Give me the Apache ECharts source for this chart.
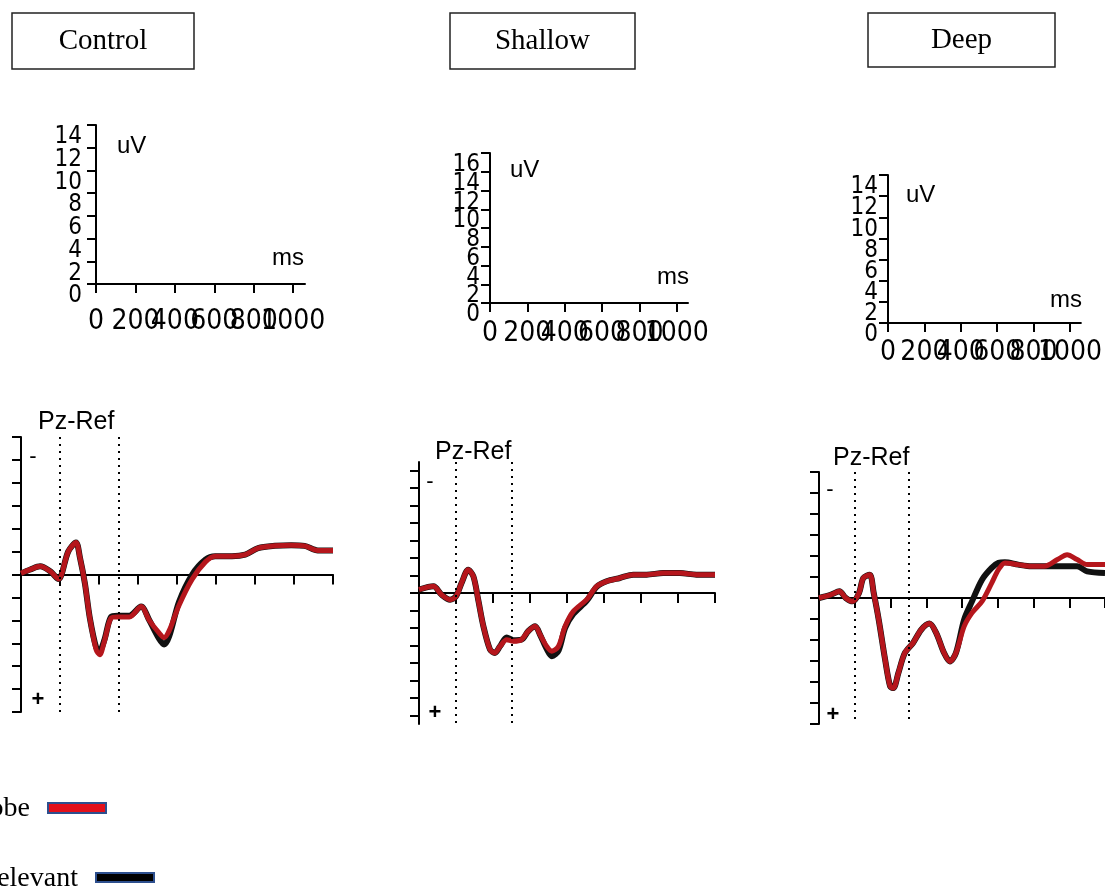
<!DOCTYPE html>
<html>
<head>
<meta charset="utf-8">
<script src="https://cdn.jsdelivr.net/npm/echarts@6/dist/echarts.min.js"></script>
<style>
  html, body { margin: 0; padding: 0; background: #fff; }
  #chart { width: 1105px; height: 890px; }
</style>
</head>
<body>
<div id="chart"></div>
<script>
// ERP waveforms at Pz for the three conditions (negative up)
const conditions = ["Control", "Shallow", "Deep"];
const legendNames = ["Probe", "Irrelevant"];

// scale boxes (uV / ms) above each waveform
const scaleTicksX = [0, 200, 400, 600, 800, 1000];
const scaleTicksY14 = [0, 2, 4, 6, 8, 10, 12, 14];
const scaleTicksY16 = [0, 2, 4, 6, 8, 10, 12, 14, 16];

// dotted markers (ms)
const markerTimes = [0, 150];

// Control
const controlTime = [-100, -76, -51, -25, -4, 21, 41, 51, 64, 76, 93, 102, 114, 131, 148, 178, 208, 229, 254, 267, 280, 305, 339, 373, 398, 441, 475, 508, 551, 593, 627, 661, 700];
const controlProbe = [-0.05, -0.22, -0.36, -0.14, 0.2, -1.0, -1.4, -0.75, 0.4, 1.85, 3.3, 3.5, 2.9, 1.9, 1.85, 1.85, 1.4, 2.0, 2.55, 2.75, 2.45, 1.35, 0.2, -0.55, -0.8, -0.8, -0.87, -1.15, -1.25, -1.28, -1.25, -1.05, -1.05];
const controlIrrelevant = [-0.05, -0.22, -0.36, -0.14, 0.2, -1.0, -1.4, -0.75, 0.4, 1.85, 3.2, 3.3, 2.85, 1.85, 1.8, 1.8, 1.4, 2.0, 2.8, 3.05, 2.7, 1.2, 0.0, -0.65, -0.8, -0.8, -0.87, -1.15, -1.25, -1.28, -1.25, -1.05, -1.05];

// Shallow
const shallowTime = [-100, -61, -39, -16, 0, 15, 33, 47, 60, 74, 92, 105, 119, 137, 155, 177, 195, 214, 227, 245, 259, 277, 295, 317, 353, 380, 407, 443, 479, 515, 560, 605, 650, 700];
const shallowProbe = [-0.19, -0.38, 0.1, 0.38, 0.19, -0.57, -1.33, -0.95, 0.38, 1.9, 3.24, 3.43, 3.05, 2.67, 2.76, 2.67, 2.19, 1.9, 2.38, 3.05, 3.33, 3.05, 1.9, 1.05, 0.38, -0.38, -0.67, -0.86, -1.05, -1.05, -1.14, -1.14, -1.05, -1.05];
const shallowIrrelevant = [-0.19, -0.38, 0.1, 0.38, 0.19, -0.57, -1.33, -0.95, 0.38, 1.9, 3.24, 3.43, 3.05, 2.55, 2.7, 2.67, 2.19, 1.9, 2.38, 3.2, 3.62, 3.3, 2.0, 1.2, 0.45, -0.35, -0.67, -0.86, -1.05, -1.05, -1.14, -1.14, -1.05, -1.05];

// Deep
const deepTime = [-100, -66, -43, -25, -6, 12, 24, 42, 53, 67, 85, 99, 108, 122, 140, 163, 186, 209, 228, 250, 266, 283, 306, 328, 356, 383, 402, 420, 457, 494, 530, 567, 594, 622, 650, 700];
const deepProbe = [0, -0.16, -0.32, 0, 0.16, -0.24, -0.95, -1.11, -0.24, 1.03, 2.94, 4.21, 4.29, 3.57, 2.62, 2.14, 1.51, 1.22, 1.67, 2.62, 3.02, 2.62, 1.35, 0.71, 0.16, -0.71, -1.35, -1.67, -1.59, -1.51, -1.51, -1.83, -2.06, -1.83, -1.59, -1.59];
const deepIrrelevant = [0, -0.16, -0.32, 0, 0.16, -0.24, -0.95, -1.11, -0.24, 1.03, 2.94, 4.21, 4.29, 3.57, 2.62, 2.14, 1.51, 1.22, 1.67, 2.62, 3.02, 2.62, 1.03, 0.16, -0.87, -1.43, -1.67, -1.7, -1.59, -1.51, -1.51, -1.51, -1.51, -1.51, -1.27, -1.19];

const waves = [
  { time: controlTime, probe: controlProbe, irr: controlIrrelevant },
  { time: shallowTime, probe: shallowProbe, irr: shallowIrrelevant },
  { time: deepTime, probe: deepProbe, irr: deepIrrelevant }
];

// layout (pixels)
const scaleLayout = [
  { left: 96, top: 125, width: 209, height: 159, ticks: scaleTicksY14, xMargin: 24, yMargin: 14 },
  { left: 490, top: 153, width: 198, height: 150, ticks: scaleTicksY16, xMargin: 17, yMargin: 10 },
  { left: 888, top: 175, width: 193, height: 148, ticks: scaleTicksY14, xMargin: 16, yMargin: 10 }
];
const waveLayout = [
  { left: 21, top: 437, width: 312, height: 275, lim: 6 },
  { left: 419, top: 462, width: 296, height: 262, lim: 7.5 },
  { left: 819, top: 472, width: 290, height: 252, lim: 6 }
];

const narrow = '"Liberation Sans Narrow", "DejaVu Sans Condensed", "Liberation Sans", sans-serif';
const sans = '"Liberation Sans", Arial, sans-serif';
const serif = '"Liberation Serif", "Times New Roman", serif';

const plain = function (v) { return String(v); };
// the packed labels are split over two stacked axes so none of them gets dropped
const every2 = function (arr, parity) { return arr.filter(function (v, j) { return j % 2 === parity; }); };

const grid = [], xAxis = [], yAxis = [], series = [];

scaleLayout.forEach(function (s, i) {
  grid.push({ left: s.left, top: s.top, width: s.width, height: s.height });
  const xi = xAxis.length, yi = yAxis.length;
  [0, 1].forEach(function (p) {
    const xt = every2(scaleTicksX, p), yt = every2(s.ticks, p);
    xAxis.push({
      type: "value", gridIndex: i, min: 0, max: 1060, position: "bottom", offset: 0,
      axisLine: { show: p === 0, onZero: false, lineStyle: { color: "#000", width: 2 } },
      axisTick: { show: true, customValues: xt, length: 9, lineStyle: { color: "#000", width: 2 } },
      axisLabel: {
        customValues: xt, formatter: plain, showMinLabel: true, showMaxLabel: true,
        fontFamily: narrow, fontSize: 28, color: "#000", margin: s.xMargin
      },
      splitLine: { show: false }
    });
    yAxis.push({
      type: "value", gridIndex: i, min: 0, max: s.ticks[s.ticks.length - 1], position: "left", offset: 0,
      axisLine: { show: p === 0, onZero: false, lineStyle: { color: "#000", width: 2 } },
      axisTick: { show: true, customValues: yt, length: 9, lineStyle: { color: "#000", width: 2 } },
      axisLabel: {
        customValues: yt, formatter: plain, showMinLabel: true, showMaxLabel: true,
        fontFamily: narrow, fontSize: 24, color: "#000", margin: s.yMargin, verticalAlign: "top"
      },
      splitLine: { show: false }
    });
  });
  series.push({ type: "line", xAxisIndex: xi, yAxisIndex: yi, data: [] });
});

waveLayout.forEach(function (w, k) {
  const gi = k + 3;
  const xi = xAxis.length, yi = yAxis.length;
  const d = waves[k];
  const yTicks = [];
  for (let v = -Math.floor(w.lim); v <= Math.floor(w.lim); v++) yTicks.push(v);
  grid.push({ left: w.left, top: w.top, width: w.width, height: w.height });
  xAxis.push({
    type: "value", gridIndex: gi, min: -100, max: 700, interval: 100,
    axisLine: { onZero: true, lineStyle: { color: "#000", width: 2 } },
    axisTick: { length: 10, lineStyle: { color: "#000", width: 2 } },
    axisLabel: { show: false },
    splitLine: { show: false }
  });
  yAxis.push({
    type: "value", gridIndex: gi, inverse: true, min: -w.lim, max: w.lim,
    axisLine: { show: true, onZero: false, lineStyle: { color: "#000", width: 2 } },
    axisTick: { show: true, customValues: yTicks, length: 9, lineStyle: { color: "#000", width: 2 } },
    axisLabel: { show: false },
    splitLine: { show: false }
  });
  series.push({
    name: "Irrelevant", type: "line", xAxisIndex: xi, yAxisIndex: yi,
    data: d.time.map(function (t, j) { return [t, d.irr[j]]; }),
    smooth: 0.3, showSymbol: false, z: 3,
    lineStyle: { color: "#111", width: 6 },
    markLine: {
      silent: true, symbol: ["none", "none"], label: { show: false },
      lineStyle: { color: "#000", type: [2, 5], width: 2 },
      data: markerTimes.map(function (t) { return { xAxis: t }; })
    }
  });
  series.push({
    name: "Probe", type: "line", xAxisIndex: xi, yAxisIndex: yi,
    data: d.time.map(function (t, j) { return [t, d.probe[j]]; }),
    smooth: 0.3, showSymbol: false, z: 4,
    lineStyle: { color: "#b5161c", width: 5 }
  });
});

// title boxes and annotations
const titleBoxes = [[12, 13, 182, 56], [450, 13, 185, 56], [868, 13, 187, 54]];
const unitPos = [[[117, 146], [272, 258]], [[510, 170], [657, 277]], [[906, 195], [1050, 300]]];
const pzPos = [[38, 422], [435, 452], [833, 458]];
const minusPos = [[33, 457], [430, 482], [830, 490]];
const plusPos = [[38, 700], [435, 713], [833, 715]];

const graphic = [];
conditions.forEach(function (c, k) {
  const b = titleBoxes[k];
  graphic.push({ type: "rect", shape: { x: b[0], y: b[1], width: b[2], height: b[3] }, style: { fill: "#fff", stroke: "#222", lineWidth: 1.5 } });
  graphic.push({ type: "text", x: b[0] + b[2] / 2, y: b[1] + b[3] / 2, style: { text: c, font: "29px " + serif, fill: "#000", align: "center", verticalAlign: "middle" } });
  graphic.push({ type: "text", x: unitPos[k][0][0], y: unitPos[k][0][1], style: { text: "uV", font: "24px " + sans, fill: "#000", verticalAlign: "middle" } });
  graphic.push({ type: "text", x: unitPos[k][1][0], y: unitPos[k][1][1], style: { text: "ms", font: "24px " + sans, fill: "#000", verticalAlign: "middle" } });
  graphic.push({ type: "text", x: pzPos[k][0], y: pzPos[k][1], style: { text: "Pz-Ref", font: "25px " + sans, fill: "#000", verticalAlign: "middle" } });
  graphic.push({ type: "text", x: minusPos[k][0], y: minusPos[k][1], style: { text: "-", font: "22px " + sans, fill: "#000", align: "center", verticalAlign: "middle" } });
  graphic.push({ type: "text", x: plusPos[k][0], y: plusPos[k][1], style: { text: "+", font: "bold 22px " + sans, fill: "#000", align: "center", verticalAlign: "middle" } });
});

// legend (cut at the left edge like the original)
graphic.push({ type: "text", x: 30, y: 809, style: { text: legendNames[0], font: "28px " + serif, fill: "#000", align: "right", verticalAlign: "middle" } });
graphic.push({ type: "rect", shape: { x: 48, y: 803, width: 58, height: 10 }, style: { fill: "#e3101a", stroke: "#2d4f8e", lineWidth: 2 } });
graphic.push({ type: "text", x: 78, y: 879, style: { text: legendNames[1], font: "28px " + serif, fill: "#000", align: "right", verticalAlign: "middle" } });
graphic.push({ type: "rect", shape: { x: 96, y: 873, width: 58, height: 9 }, style: { fill: "#000", stroke: "#2d4f8e", lineWidth: 2 } });

const chart = echarts.init(document.getElementById("chart"));
chart.setOption({
  animation: false,
  backgroundColor: "#fff",
  grid: grid,
  xAxis: xAxis,
  yAxis: yAxis,
  series: series,
  graphic: graphic
});
</script>
</body>
</html>
